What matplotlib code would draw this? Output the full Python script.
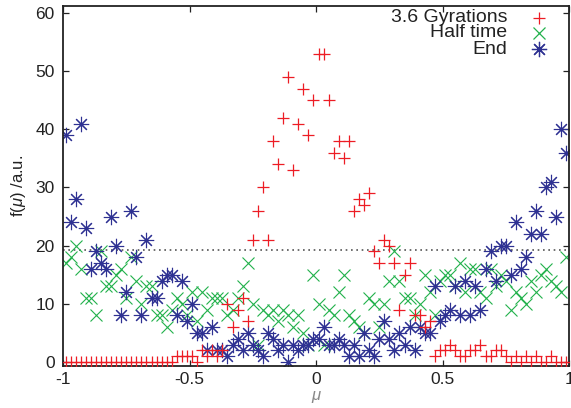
import numpy as np
import matplotlib
matplotlib.use("Agg")  # без дисплея
import matplotlib.pyplot as plt

plt.rcParams["font.family"] = ["Liberation Sans", "DejaVu Sans"]  # шрифт, похожий на Helvetica
plt.rcParams["mathtext.fontset"] = "custom"
plt.rcParams["mathtext.rm"] = "Liberation Sans"
plt.rcParams["mathtext.it"] = "Liberation Sans:italic"
plt.rcParams["axes.unicode_minus"] = False  # обычный дефис в подписях

# центры бинов по mu: 100 бинов на [-1, 1]
n_bins = 100
mu = -1 + (np.arange(n_bins) + 0.5) * (2.0 / n_bins)

# 3.6 Gyrations
gyrations = [
    0, 0, 0, 0, 0, 0, 0, 0, 0, 0,
    0, 0, 0, 0, 0, 0, 0, 0, 0, 0,
    0, 0, 1, 1, 1, 1, 0, 2, 1, 2,
    1, 2, 10, 6, 9, 11, 7, 21, 26, 30,
    21, 38, 34, 42, 49, 33, 41, 47, 39, 45,
    53, 53, 45, 36, 38, 35, 38, 26, 28, 27,
    29, 19, 17, 21, 20, 17, 9, 15, 17, 8,
    8, 6, 7, 1, 2, 2, 3, 2, 1, 1,
    2, 2, 3, 1, 1, 2, 2, 1, 0, 1,
    0, 1, 0, 1, 0, 0, 1, 0, 0, 0,
]

# Half time
half_time = [
    17, 18, 20, 16, 11, 11, 8, 19, 13, 13,
    15, 16, 11, 18, 14, 10, 13, 13, 8, 8,
    6, 9, 11, 10, 8, 12, 7, 12, 9, 11,
    11, 11, 8, 9, 11, 13, 17, 10, 3, 9,
    8, 9, 7, 9, 8, 6, 8, 5, 3, 15,
    10, 3, 9, 8, 12, 15, 8, 7, 6, 5,
    11, 10, 6, 10, 14, 19, 14, 11, 11, 8,
    10, 15, 12, 8, 14, 15, 15, 13, 17, 12,
    16, 16, 12, 11, 16, 13, 15, 14, 9, 12,
    11, 10, 14, 12, 15, 16, 14, 13, 12, 18,
]

# End
end = [
    39, 24, 28, 41, 23, 16, 19, 17, 16, 25,
    20, 8, 12, 26, 18, 8, 21, 11, 11, 14,
    15, 15, 8, 14, 7, 10, 5, 5, 2, 6,
    2, 2, 1, 3, 4, 2, 5, 3, 2, 1,
    5, 4, 2, 3, 0, 3, 2, 3, 3, 4,
    4, 6, 3, 3, 4, 3, 1, 3, 1, 5,
    2, 1, 4, 7, 4, 2, 5, 3, 6, 2,
    6, 5, 5, 13, 7, 8, 9, 13, 8, 14,
    8, 13, 9, 16, 19, 14, 20, 20, 15, 24,
    16, 18, 22, 26, 22, 30, 31, 25, 40, 36,
]

reference_level = 19.2  # пунктирный уровень

labels = ["3.6 Gyrations", "Half time", "End"]
colors = ["#ED1C24", "#22B14C", "#2E3192"]
star = (8, 2, 0)  # звёздочка как в gnuplot: + и x вместе

fig = plt.figure(figsize=(5.71, 4.08), dpi=100, facecolor="white")
ax = fig.add_axes([63 / 571, 1 - 365.5 / 408, (569 - 63) / 571, (365.5 - 6) / 408])

ax.axhline(reference_level, color="#555555", linestyle=(0, (1, 2.2)), linewidth=1.2, zorder=1)

ax.plot(mu, gyrations, linestyle="none", marker="+", markersize=8.5, markeredgewidth=0.9,
        color=colors[0], zorder=3)
ax.plot(mu, half_time, linestyle="none", marker="x", markersize=8, markeredgewidth=0.8,
        color=colors[1], zorder=2)
ax.plot(mu, end, linestyle="none", marker=star, markersize=11, markeredgewidth=0.8,
        color=colors[2], zorder=2)

ax.set_xlim(-1, 1)
ax.set_ylim(-0.6, 61.2)
ax.set_xticks([-1, -0.5, 0, 0.5, 1])
ax.set_xticklabels(["-1", "-0.5", "0", "0.5", "1"])
ax.set_yticks([0, 10, 20, 30, 40, 50, 60])

ax.tick_params(direction="in", top=True, right=True, length=4, width=0.9,
               labelsize=12.5, colors="#222222")
ax.tick_params(axis="y", pad=6)
ax.tick_params(axis="x", pad=5)
for spine in ax.spines.values():
    spine.set_linewidth(1.3)
    spine.set_color("#222222")

ax.set_ylabel(r"f($\mu$) /a.u.", fontsize=12, color="#222222")
ax.yaxis.set_label_coords(-0.07, 0.5)
ax.set_xlabel(r"$\mu$", fontsize=12, color="#888888")
ax.xaxis.set_label_coords(0.502, -0.065)

# легенда в стиле gnuplot: текст выровнен вправо, маркер справа
key_y = [0.967, 0.925, 0.880]
markers = ["+", "x", star]
sizes = [8.5, 8, 11]
for label, color, m, s, y in zip(labels, colors, markers, sizes, key_y):
    ax.text(0.878, y, label, transform=ax.transAxes, ha="right", va="center",
            fontsize=14, color="#222222")
    ax.plot([0.941], [y], transform=ax.transAxes, linestyle="none", marker=m,
            markersize=s, markeredgewidth=0.9, color=color, clip_on=False)

fig.savefig("out.png", dpi=100, facecolor="white")
plt.close(fig)
